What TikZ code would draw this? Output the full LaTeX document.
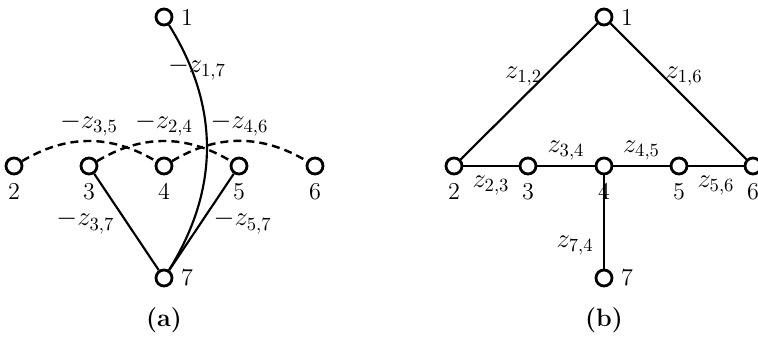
\documentclass[tikz,border=0pt]{standalone}
\usetikzlibrary{positioning}
\tikzset{
  gr/vertex/.style={
    circle,
    draw=black,
    line width=1.5pt,
    fill=white,
    minimum size=8.6pt,
    inner sep=0pt
  },
  gr/nlabel/.style={label distance=2.5pt, inner sep=1.5pt, font=\fontsize{13}{15}\selectfont},
  gr/edge/.style={line width=1.15pt, draw=black},
  gr/dashedge/.style={line width=1.3pt, draw=black, dash pattern=on 4.3pt off 2.7pt},
  gr/elabel/.style={font=\fontsize{14}{17}\selectfont, inner sep=2pt},
  gr/caption/.style={font=\fontsize{13.5}{16}\selectfont\bfseries}
}

\begin{document}
\begin{tikzpicture}[x=0.537pt,y=0.537pt]
  \useasboundingbox (0,0) rectangle (758,337);
  \clip (0,0) rectangle (758,337);
  % (a)
  \node[gr/vertex,label={[gr/nlabel]right:1}] (a1) at (164,320) {};
  \node[gr/vertex,label={[gr/nlabel]below:2}] (a2) at (14,171) {};
  \node[gr/vertex,label={[gr/nlabel]below:3}] (a3) at (89,171) {};
  \node[gr/vertex,label={[gr/nlabel]below:4}] (a4) at (164,171) {};
  \node[gr/vertex,label={[gr/nlabel]below:5}] (a5) at (239,171) {};
  \node[gr/vertex,label={[gr/nlabel]below:6}] (a6) at (315,171) {};
  \node[gr/vertex,label={[gr/nlabel]right:7}] (a7) at (164,59) {};
  \draw[gr/dashedge] (a2) to[bend left=31] node[gr/elabel,above=0pt] {$-z_{3,5}$} (a4);
  \draw[gr/dashedge] (a3) to[bend left=31] node[gr/elabel,above=0pt] {$-z_{2,4}$} (a5);
  \draw[gr/dashedge] (a4) to[bend left=31] node[gr/elabel,above=0pt] {$-z_{4,6}$} (a6);
  \draw[gr/edge] (a1) to[bend left=32] node[gr/elabel,pos=0.18,xshift=3pt] {$-z_{1,7}$} (a7);
  \draw[gr/edge] (a3) -- node[gr/elabel,left=4pt] {$-z_{3,7}$} (a7);
  \draw[gr/edge] (a5) -- node[gr/elabel,right=4pt] {$-z_{5,7}$} (a7);
  \node[gr/caption] (capa) at (164,17) {(a)};
  % (b)
  \node[gr/vertex,label={[gr/nlabel]right:1}] (b1) at (604,320) {};
  \node[gr/vertex,label={[gr/nlabel]below:2}] (b2) at (454,171) {};
  \node[gr/vertex,label={[gr/nlabel]below:3}] (b3) at (528,171) {};
  \node[gr/vertex,label={[gr/nlabel]below:4}] (b4) at (604,171) {};
  \node[gr/vertex,label={[gr/nlabel]below:5}] (b5) at (679,171) {};
  \node[gr/vertex,label={[gr/nlabel]below:6}] (b6) at (753,171) {};
  \node[gr/vertex,label={[gr/nlabel]right:7}] (b7) at (604,59) {};
  \draw[gr/edge] (b1) -- node[gr/elabel,pos=0.39,left,inner sep=0.5pt] {$z_{1,2}$} (b2);
  \draw[gr/edge] (b1) -- node[gr/elabel,pos=0.39,right,inner sep=0.5pt] {$z_{1,6}$} (b6);
  \draw[gr/edge] (b2) -- node[gr/elabel,below=3pt] {$z_{2,3}$} (b3);
  \draw[gr/edge] (b3) -- node[gr/elabel,above=0.5pt] {$z_{3,4}$} (b4);
  \draw[gr/edge] (b4) -- node[gr/elabel,above=0.5pt] {$z_{4,5}$} (b5);
  \draw[gr/edge] (b5) -- node[gr/elabel,below=3pt] {$z_{5,6}$} (b6);
  \draw[gr/edge] (b7) -- node[gr/elabel,pos=0.25,left=3pt] {$z_{7,4}$} (b4);
  \node[gr/caption] (capb) at (604,17) {(b)};
\end{tikzpicture}
\end{document}
